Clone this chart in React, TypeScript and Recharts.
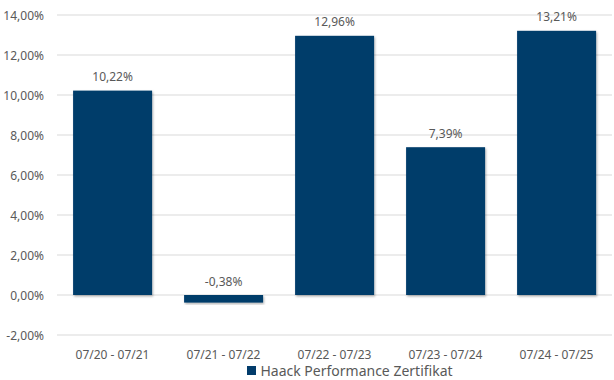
import React from 'react';
import { BarChart, Bar, XAxis, YAxis, CartesianGrid, Legend, LabelList } from 'recharts';

const categories = ['07/20 - 07/21', '07/21 - 07/22', '07/22 - 07/23', '07/23 - 07/24', '07/24 - 07/25'];
const performance = [10.22, -0.38, 12.96, 7.39, 13.21];
const yTicks = [-2, 0, 2, 4, 6, 8, 10, 12, 14];
const seriesName = 'Haack Performance Zertifikat';

const data = categories.map((c, i) => ({ period: c, value: performance[i] }));

const BAR = '#023c6b';
const TXT = '#595959';
const FONT = '"Noto Sans", sans-serif';

const fmt = (v: number) => v.toFixed(2).replace('.', ',') + '%';

const BarShape = (props: any) => {
  const { x, y, width, height } = props;
  const top = Math.min(y, y + height);
  const h = Math.abs(height);
  return <rect x={x} y={top} width={width} height={h} fill={BAR} filter="url(#barShadow)" />;
};

const TopLabel = (props: any) => {
  const { x, y, width, height, value } = props;
  const top = Math.min(y, y + height);
  return (
    <text x={x + width / 2} y={top - 9.5} textAnchor="middle" fill={TXT} fontSize={12} fontFamily={FONT}>
      {fmt(value)}
    </text>
  );
};

const XTick = (props: any) => {
  const { x, y, payload } = props;
  return (
    <text x={x} y={y + 16} textAnchor="middle" fill={TXT} fontSize={12} fontFamily={FONT}>
      {payload.value}
    </text>
  );
};

const YTick = (props: any) => {
  const { y, payload } = props;
  return (
    <text x={44} y={y + 4.5} textAnchor="end" fill={TXT} fontSize={12} fontFamily={FONT}>
      {fmt(payload.value)}
    </text>
  );
};

const LegendContent = () => (
  <div style={{ display: 'flex', justifyContent: 'center', alignItems: 'center', height: 15, lineHeight: '15px', fontFamily: FONT, fontSize: 14, color: TXT, paddingLeft: 88, marginTop: -2 }}>
    <span style={{ display: 'inline-block', width: 9, height: 9, background: BAR, marginRight: 4 }} />
    <span>{seriesName}</span>
  </div>
);

export default function App() {
  return (
    <div style={{ position: 'absolute', left: 0, top: 0, width: 614, height: 380, background: '#fff' }}>
      <BarChart width={614} height={380} data={data} margin={{ top: 15, right: 2, bottom: 0, left: 0 }} barCategoryGap="14.5%">
        <defs>
          <filter id="barShadow" x="-10%" y="-10%" width="130%" height="130%">
            <feDropShadow dx="1" dy="1.5" stdDeviation="1.2" floodColor="#000" floodOpacity="0.3" />
          </filter>
        </defs>
        <CartesianGrid vertical={false} stroke="#d9d9d9" strokeWidth={1} />
        <XAxis dataKey="period" axisLine={false} tickLine={false} height={30} tick={<XTick />} interval={0} />
        <YAxis width={57} domain={[-2, 14]} ticks={yTicks} axisLine={false} tickLine={false} tick={<YTick />} interval={0} />
        <Legend verticalAlign="bottom" height={15} content={<LegendContent />} />
        <Bar dataKey="value" name={seriesName} fill={BAR} isAnimationActive={false} shape={<BarShape />}>
          <LabelList dataKey="value" content={<TopLabel />} />
        </Bar>
      </BarChart>
    </div>
  );
}
